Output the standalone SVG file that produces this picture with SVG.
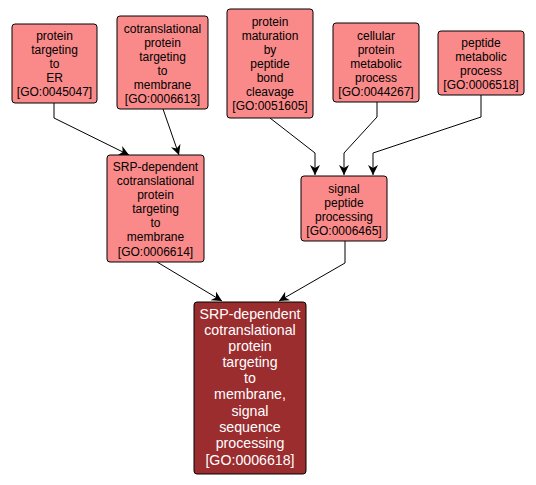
<svg xmlns="http://www.w3.org/2000/svg" width="536" height="485" viewBox="0 0 536 485">
<defs>
<marker id="arr" viewBox="0 0 10 10" refX="10" refY="5" markerWidth="10" markerHeight="10" markerUnits="userSpaceOnUse" orient="auto">
<path d="M0,0 L10,5 L0,10 L3,5 Z" fill="#000"/>
</marker>
<style>
.n rect{fill:#fa8a8a;stroke:#000;stroke-width:1}
.d rect{fill:#9b2d2f;stroke:#000;stroke-width:1}
text{font-family:"Liberation Sans",Arial,sans-serif;font-size:12px;text-anchor:middle;fill:#000}
.d text{fill:#fff;font-size:14.2px}
.e path{fill:none;stroke:#000;stroke-width:1;marker-end:url(#arr)}
</style>
</defs>
<rect width="536" height="485" fill="#fff"/>
<g class="e" id="edges">
<path d="M54,103 L54,118 L129,155"/>
<path d="M163,109 L179,155"/>
<path d="M270,118 L315,153 L315,175"/>
<path d="M377,102 L377,117 L344,153 L344,175"/>
<path d="M481,95 L481,117 L373,153 L373,175"/>
<path d="M157,262 L222,301"/>
<path d="M345,241 L345,263 L279,301"/>
</g>
<g class="n" id="GO0045047">
<rect x="12" y="24" width="85" height="79" rx="3"/>
<text x="54.5" y="40">protein</text>
<text x="54.5" y="54">targeting</text>
<text x="54.5" y="68">to</text>
<text x="54.5" y="82">ER</text>
<text x="54.5" y="96">[GO:0045047]</text>
</g>
<g class="n" id="GO0006613">
<rect x="117" y="16" width="91" height="93" rx="3"/>
<text x="162.5" y="33">cotranslational</text>
<text x="162.5" y="47">protein</text>
<text x="162.5" y="61">targeting</text>
<text x="162.5" y="75">to</text>
<text x="162.5" y="89">membrane</text>
<text x="162.5" y="103">[GO:0006613]</text>
</g>
<g class="n" id="GO0051605">
<rect x="227" y="9" width="86" height="109" rx="3"/>
<text x="270" y="26">protein</text>
<text x="270" y="40">maturation</text>
<text x="270" y="54">by</text>
<text x="270" y="68">peptide</text>
<text x="270" y="82">bond</text>
<text x="270" y="96">cleavage</text>
<text x="270" y="110">[GO:0051605]</text>
</g>
<g class="n" id="GO0044267">
<rect x="333" y="23" width="86" height="79" rx="3"/>
<text x="376" y="40">cellular</text>
<text x="376" y="54">protein</text>
<text x="376" y="68">metabolic</text>
<text x="376" y="82">process</text>
<text x="376" y="96">[GO:0044267]</text>
</g>
<g class="n" id="GO0006518">
<rect x="438" y="31" width="86" height="64" rx="3"/>
<text x="481" y="47">peptide</text>
<text x="481" y="61">metabolic</text>
<text x="481" y="75">process</text>
<text x="481" y="89">[GO:0006518]</text>
</g>
<g class="n" id="GO0006614">
<rect x="107" y="155" width="97" height="107" rx="3"/>
<text x="155.5" y="171">SRP-dependent</text>
<text x="155.5" y="185">cotranslational</text>
<text x="155.5" y="199">protein</text>
<text x="155.5" y="213">targeting</text>
<text x="155.5" y="227">to</text>
<text x="155.5" y="241">membrane</text>
<text x="155.5" y="256">[GO:0006614]</text>
</g>
<g class="n" id="GO0006465">
<rect x="301" y="176" width="86" height="65" rx="3"/>
<text x="344" y="193">signal</text>
<text x="344" y="207">peptide</text>
<text x="344" y="221">processing</text>
<text x="344" y="235">[GO:0006465]</text>
</g>
<g class="d" id="GO0006618">
<rect x="194" y="302" width="112" height="172" rx="3"/>
<text x="250" y="319">SRP-dependent</text>
<text x="250" y="335">cotranslational</text>
<text x="250" y="351">protein</text>
<text x="250" y="367">targeting</text>
<text x="250" y="383">to</text>
<text x="250" y="399">membrane,</text>
<text x="250" y="416">signal</text>
<text x="250" y="432">sequence</text>
<text x="250" y="448">processing</text>
<text x="250" y="465">[GO:0006618]</text>
</g>
</svg>
